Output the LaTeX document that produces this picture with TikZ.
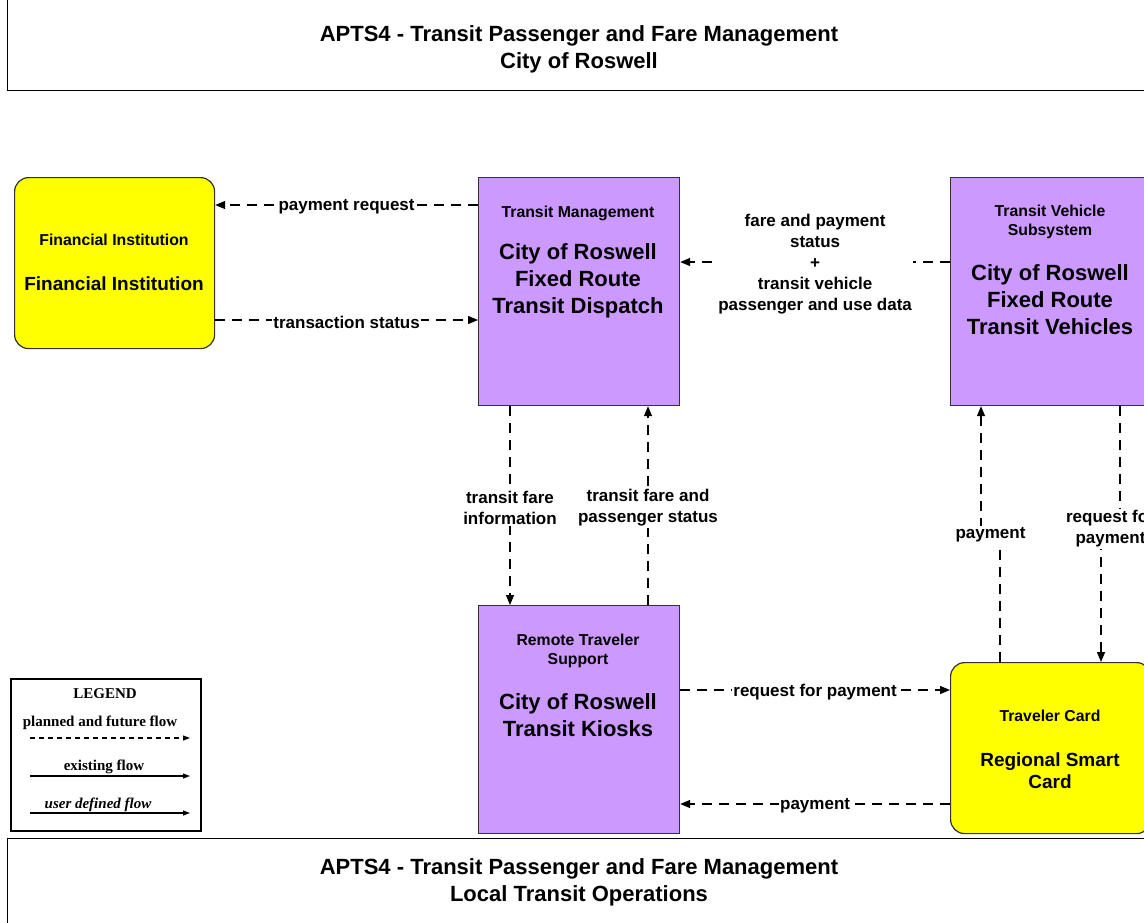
\documentclass[tikz,border=0pt]{standalone}
\usepackage{fontspec}
\setmainfont{Liberation Sans}
\newfontfamily\legendfont{Liberation Serif}
\usetikzlibrary{arrows.meta}
\definecolor{violetbox}{RGB}{204,153,255}
\definecolor{yellowbox}{RGB}{255,255,0}
\definecolor{boxline}{RGB}{50,50,50}
\begin{document}
\begin{tikzpicture}[x=1pt,y=-1pt,
  box/.style={draw=boxline, line width=1.2pt, inner sep=0pt, anchor=north west},
  purplebox/.style={box, fill=violetbox},
  yelbox/.style={box, fill=yellowbox, rounded corners=14pt},
  titlebox/.style={draw=black, line width=1pt, inner sep=0pt, anchor=north west},
  flow/.style={draw=black, line width=1.3pt, dash pattern=on 10pt off 7pt, -{Triangle[length=10pt,width=8pt]}},
  lbl/.style={fill=white, font=\bfseries\fontsize{17}{21}\selectfont, align=center, inner sep=1.5pt, yshift=-2pt},
  hdr/.style={font=\bfseries\fontsize{15.8}{19}\selectfont, align=center, inner sep=0pt, yshift=-2pt},
  big/.style={font=\bfseries\fontsize{22}{27}\selectfont, align=center, inner sep=0pt, yshift=-2pt},
  bigcard/.style={font=\bfseries\fontsize{19}{22}\selectfont, align=center, inner sep=0pt, yshift=-2pt},
  ttl/.style={font=\bfseries\fontsize{22}{27}\selectfont, align=center, inner sep=0pt, yshift=-3pt},
  legtxt/.style={font=\legendfont\bfseries\fontsize{15}{18}\selectfont, inner sep=0pt, yshift=-1.5pt},
  legflow/.style={draw=black, line width=1.2pt, -{Triangle[length=7pt,width=5pt]}}
]
\useasboundingbox (0,0) rectangle (1144,922);

% title boxes
\node[titlebox, minimum width=1144pt, minimum height=91pt] (topbox) at (7,-1) {};
\node[ttl] (toptitle) at (579,46.5) {APTS4 - Transit Passenger and Fare Management\\City of Roswell};
\node[titlebox, minimum width=1144pt, minimum height=90pt] (botbox) at (7,838) {};
\node[ttl] (bottitle) at (579,879.5) {APTS4 - Transit Passenger and Fare Management\\Local Transit Operations};

% main boxes
\node[yelbox, minimum width=200pt, minimum height=171pt] (fi) at (14,177) {};
\node[hdr] (fihdr) at (114,238) {Financial Institution};
\node[font=\bfseries\fontsize{19}{22}\selectfont, inner sep=0pt, yshift=-2pt] (finame) at (114,282) {Financial Institution};

\node[purplebox, minimum width=201pt, minimum height=228pt] (disp) at (478,177) {};
\node[hdr] (disphdr) at (578,211) {Transit Management};
\node[big] (dispname) at (578,279) {City of Roswell\\Fixed Route\\Transit Dispatch};

\node[purplebox, minimum width=200pt, minimum height=228pt] (veh) at (950,177) {};
\node[hdr] (vehhdr) at (1050,219.5) {Transit Vehicle\\Subsystem};
\node[big] (vehname) at (1050,298) {City of Roswell\\Fixed Route\\Transit Vehicles};

\node[purplebox, minimum width=201pt, minimum height=228pt] (kiosk) at (478,605) {};
\node[hdr] (kioskhdr) at (578,648.5) {Remote Traveler\\Support};
\node[big] (kioskname) at (578,713.5) {City of Roswell\\Transit Kiosks};

\node[yelbox, minimum width=200pt, minimum height=171pt] (card) at (950,662) {};
\node[hdr] (cardhdr) at (1050,714) {Traveler Card};
\node[bigcard] (cardname) at (1050,769) {Regional Smart\\Card};

% connectors
\draw[flow] (disp.west |- 0,205) -- node[lbl] {payment request} (fi.east |- 0,205);
\draw[flow] (fi.east |- 0,320) -- node[lbl] {transaction status} (disp.west |- 0,320);
\draw[flow] (veh.west |- 0,262) -- node[lbl] {fare and payment\\status\\+\\transit vehicle\\passenger and use data} (disp.east |- 0,262);
\draw[flow] (disp.south -| 510,0) -- node[lbl] {transit fare\\information} (kiosk.north -| 510,0);
\draw[flow] (kiosk.north -| 648,0) -- node[lbl] {transit fare and\\passenger status} (disp.south -| 648,0);
\draw[flow] (card.north -| 1000,0) -- (1000,533) -- node[lbl] {payment} (981,533) -- (veh.south -| 981,0);
\draw[flow] (veh.south -| 1120,0) -- (1120,527) -- node[lbl] {request for\\payment} (1101,527) -- (card.north -| 1101,0);
\draw[flow] (kiosk.east |- 0,690) -- node[lbl] {request for payment} (card.west |- 0,690);
\draw[flow] (card.west |- 0,804) -- node[lbl] {payment} (kiosk.east |- 0,804);

% legend
\node[draw=black, line width=1.6pt, minimum width=190pt, minimum height=152pt, inner sep=0pt, anchor=north west] (legend) at (10,678) {};
\node[legtxt] (legtitle) at (105,692) {LEGEND};
\node[legtxt] (leg1) at (100,721) {planned and future flow};
\node[legtxt] (leg2) at (104,765) {existing flow};
\node[legtxt, font=\legendfont\bfseries\itshape\fontsize{15}{18}\selectfont] (leg3) at (98,803) {user defined flow};
\coordinate (la1) at (30,738);
\coordinate (lb1) at (190,738);
\coordinate (la2) at (30,776);
\coordinate (lb2) at (190,776);
\coordinate (la3) at (30,813);
\coordinate (lb3) at (190,813);
\draw[legflow, dash pattern=on 5pt off 4pt] (la1) -- (lb1);
\draw[legflow] (la2) -- (lb2);
\draw[legflow] (la3) -- (lb3);
\end{tikzpicture}
\end{document}
